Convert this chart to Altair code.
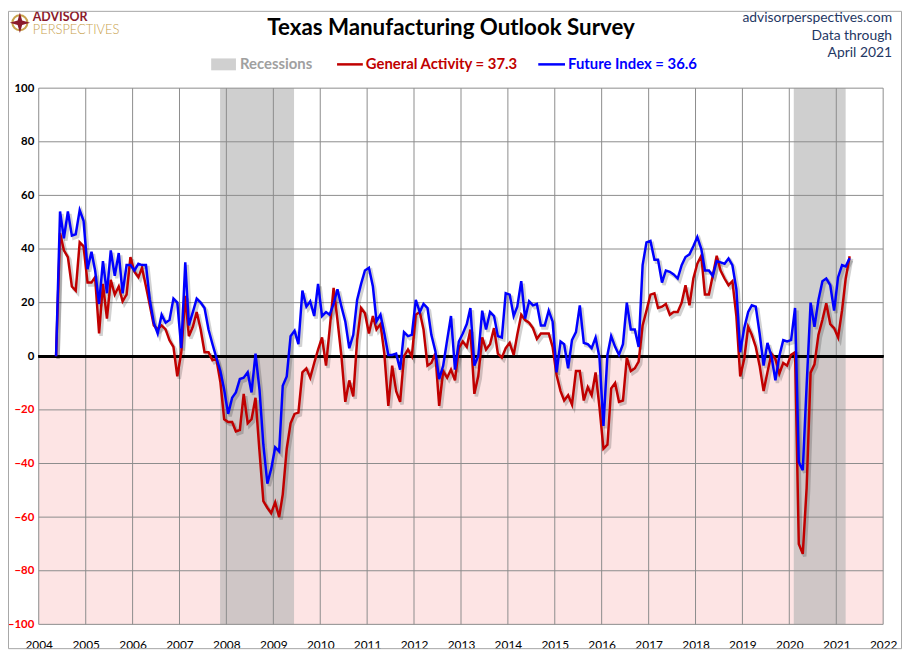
import pandas as pd
import altair as alt

FONT = "Lato"

# monthly readings, May 2004 .. Apr 2021
first_month = "2004-05-01"
general_activity = [
    0, 46, 39.5, 37, 26, 24.5, 42.5, 41,
    27.5, 27.5, 29.5, 8.5, 27, 14, 28.5, 23, 26, 20.5, 23, 37,
    31.5, 29.5, 33, 26, 19, 11.5, 10, 11.5, 10, 6, 3.5, -7.5,
    1.5, 22.5, 7.5, 11, 16.5, 10, 1.5, 1.5, -1.5, -1, -9.5, -23.5,
    -24.5, -24.5, -28, -27.5, -14, -25, -23.5, -15.5, -35.5, -54, -56.5, -58.5,
    -54.5, -60, -51.5, -34.5, -25, -21.5, -21, -6, -4.5, -8, -2.5, 2.5,
    7, -3.5, 10, 25.5, 13.5, 0, -17, -9, -15, 6, 18, 16,
    8.5, 15, 10, 12, 1, -18.5, -3.5, -13, -17, 0, 2.5, 0,
    15.5, 16.5, 10, -3.5, -2.5, 1, -18.5, -5.5, -8, -5, -9, 3,
    5.5, 3.5, 10, -14, -7.5, 7, 2.5, 4.5, 10.5, 1, -0.5, 3,
    5, 0.5, 8, 15.5, 13.5, 12.5, 10.5, 6.5, 8.5, 8.5, 8.5, 3.5,
    -7, -13, -16.5, -14.5, -18, -5.5, -5.5, -16.5, -11.5, -14.5, -6, -19,
    -34.5, -33, -12, -10, -17, -16.5, -0.5, -5.5, -4.5, -2, 11.5, 17,
    23, 23.5, 18, 18.5, 19.5, 15.5, 16.5, 16.5, 20, 26.5, 19, 29,
    34.5, 37.5, 23, 23, 30, 37.5, 32, 29, 26.5, 28, 15, -7.5,
    -1, 11, 8, 3.5, -3.5, -13, -6, 1, -1, -6.5, -2.5, -3.5,
    0.5, 1.5, -70, -73.7, -49.2, -6.1, -3, 8, 13.6, 19.8, 12, 10.5,
    7, 17.2, 28.9, 37.3,
]
future_index = [
    0, 54, 44, 54, 45, 45.5, 54.5, 50.5,
    32.5, 39, 32, 19.5, 35.5, 23.5, 39.5, 30, 38.5, 23.5, 34, 34,
    32, 34.5, 34, 34, 21, 12.5, 8.5, 15.5, 12.5, 13.5, 21.5, 20,
    3, 35, 11.5, 16.5, 21.5, 20, 18, 10, 4.5, -0.5, -5.5, -12.5,
    -21.5, -15.5, -13.5, -8.5, -8, -6, -13.5, 1, -12.5, -33, -47.5, -42,
    -34, -35.5, -11, -7.5, 7.5, 9.5, 4.5, 24.5, 18.5, 20.5, 15, 27,
    15, 16.5, 15.5, 19.5, 25, 18.5, 13, 3, 8, 21, 27, 32,
    33, 26, 13, 15.5, 8.5, 0.5, 0.5, 1, -5, 9, 7.5, 8,
    21, 16.5, 19.5, 18, 8, 2, -8.5, -3.5, 6, 15, -5, 5.5,
    8.5, 12, 18, -3.5, 0, 17, 10, 16.5, 15, 7.5, 7, 23.5,
    23, 15, 18.5, 28, 14, 20.5, 19, 19.5, 11.5, 11.5, 17, 13,
    -6, 5.5, 4.5, -4.5, 6, 9, 19, 5, 4.5, 3, 7, -0.5,
    -26, 0.5, 7.5, 3.5, 0.5, 4.5, 20, 10, 10, 3.5, 34, 42.5,
    43, 36, 36, 27.5, 32, 31.5, 30.5, 29, 34, 37, 38, 41,
    44.5, 40, 32, 32, 30, 35.5, 35, 34.5, 36.5, 34, 25, 1.5,
    10.5, 16.5, 19, 18.5, 8.5, -3.5, 5, 0, -9, 0, 6, 5.5,
    6, 18, -39.5, -42.5, -11, 20, 11, 21, 28, 29, 26.5, 17,
    29.5, 34, 33.5, 36.6,
]

recession_start = ["2007-11-13", "2020-02-05"]
recession_end = ["2009-06-11", "2021-03-15"]

year_ticks = list(range(2004, 2023))
value_ticks = list(range(-100, 101, 20))

W, H = 852, 541
LEFT, TOP = 31, 78

months = pd.date_range(first_month, periods=len(general_activity), freq="MS") + pd.Timedelta(days=14)
df = pd.DataFrame({"date": months, "general": general_activity, "future": future_index})
rec = pd.DataFrame({"start": pd.to_datetime(recession_start), "end": pd.to_datetime(recession_end)})
neg = pd.DataFrame({
    "start": [pd.Timestamp(f"{year_ticks[0]}-01-01")],
    "end": [pd.Timestamp(f"{year_ticks[-1]}-01-01")],
    "top": [0], "bottom": [value_ticks[0]],
})
years = pd.DataFrame({"year": pd.to_datetime([f"{y}-01-01" for y in year_ticks])})
levels = pd.DataFrame({"v": value_ticks})

x_scale = alt.Scale(domain=[alt.DateTime(year=year_ticks[0], month=1, date=1),
                            alt.DateTime(year=year_ticks[-1], month=1, date=1)])
y_scale = alt.Scale(domain=[value_ticks[0], value_ticks[-1]], nice=False)

# same axis object on every layer so the merged axis keeps these settings
x_axis = alt.Axis(
    values=[alt.DateTime(year=y, month=1, date=1) for y in year_ticks],
    format="%Y", title=None, grid=False, domain=False, ticks=False,
    labelFont=FONT, labelFontSize=12, labelColor="black", labelPadding=15,
    labelFlush=False, labelOverlap=False,
)
y_axis = alt.Axis(
    values=value_ticks, title=None, grid=False, domain=False, ticks=False,
    labelFont=FONT, labelFontSize=11.5, labelFontWeight="bold", labelPadding=5,
    labelColor={"condition": {"test": "datum.value < 0", "value": "#FF0000"}, "value": "black"},
)


def X(field):
    return alt.X(field, scale=x_scale, axis=x_axis)


def Y(field):
    return alt.Y(field, scale=y_scale, axis=y_axis)


pink = alt.Chart(neg).mark_rect(color="#FDE4E4").encode(
    x=X("start:T"), x2="end:T", y=Y("top:Q"), y2="bottom:Q",
)
recessions = alt.Chart(rec).mark_rect(color="#B8B8B8", opacity=0.68).encode(
    x=X("start:T"), x2="end:T",
)
vgrid = alt.Chart(years).mark_rule(color="#8C8C8C", strokeWidth=1).encode(x=X("year:T"))
hgrid = alt.Chart(levels).mark_rule(color="#8C8C8C", strokeWidth=1).encode(y=Y("v:Q"))
zero = alt.Chart(levels).mark_rule(color="black", strokeWidth=2.5).encode(y=alt.datum(0))


def series(field, color, shadow=False):
    if shadow:
        style = dict(color="black", opacity=0.18, strokeWidth=3.5, xOffset=2, yOffset=2.5)
    else:
        style = dict(color=color, strokeWidth=2.5)
    return alt.Chart(df).mark_line(**style).encode(x=X("date:T"), y=Y(f"{field}:Q"))


def label(text, x, y, size=13, color="black", weight="normal", align="left"):
    return alt.Chart(alt.Data(values=[{}])).mark_text(
        text=text, font=FONT, fontSize=size, color=color, fontWeight=weight,
        align=align, baseline="middle",
    ).encode(x=alt.value(x - LEFT - 8), y=alt.value(y - TOP - 8))


def pix_rule(x1, x2, y, color, width=2.5):
    return alt.Chart(alt.Data(values=[{}])).mark_rule(color=color, strokeWidth=width).encode(
        x=alt.value(x1 - LEFT - 8), x2=alt.value(x2 - LEFT - 8), y=alt.value(y - TOP - 8)
    )


legend_box = alt.Chart(alt.Data(values=[{}])).mark_rect(color="#D0D0D0").encode(
    x=alt.value(213 - LEFT - 8), x2=alt.value(238 - LEFT - 8),
    y=alt.value(56 - TOP - 8), y2=alt.value(68 - TOP - 8),
)
logo_ring = alt.Chart(alt.Data(values=[{}])).mark_point(
    shape="circle", size=230, filled=False, color="#C9A24D", strokeWidth=2, opacity=1
).encode(x=alt.value(20 - LEFT - 8), y=alt.value(20 - TOP - 8))
logo_star = alt.Chart(alt.Data(values=[{}])).mark_point(
    shape="M0,-1L0.22,-0.22L1,0L0.22,0.22L0,1L-0.22,0.22L-1,0L-0.22,-0.22Z",
    size=420, filled=True, color="#8B1A2B", opacity=1
).encode(x=alt.value(20 - LEFT - 8), y=alt.value(20 - TOP - 8))
frame = alt.Chart(alt.Data(values=[{}])).mark_rect(
    fill=None, stroke="#A6A6A6", strokeWidth=1
).encode(
    x=alt.value(-LEFT + 0.5), x2=alt.value(W + 18.5),
    y=alt.value(-TOP + 0.5), y2=alt.value(H + 24.5),
)

chart = alt.layer(
    pink, recessions, vgrid, hgrid, zero,
    series("general", None, shadow=True), series("future", None, shadow=True),
    series("general", "#C00000"), series("future", "#0000FF"),
    label("Texas Manufacturing Outlook Survey", 455, 25, size=22.5, weight="bold", align="center"),
    label("advisorperspectives.com", 900, 15, size=14, color="#1F3864", align="right"),
    label("Data through", 900, 33, size=14, color="#1F3864", align="right"),
    label("April 2021", 900, 51, size=14, color="#1F3864", align="right"),
    label("ADVISOR", 33, 14, size=12.5, color="#8B1A2B", weight="bold"),
    label("PERSPECTIVES", 33, 27.5, size=13, color="#C9A24D", weight=300),
    logo_ring, logo_star,
    legend_box,
    label("Recessions", 242, 62, size=15, color="#A0A0A0", weight="bold"),
    pix_rule(340, 366, 62, "#C00000"),
    label("General Activity = 37.3", 369, 62, size=15, color="#C00000", weight="bold"),
    pix_rule(543, 570, 62, "#0000FF"),
    label("Future Index = 36.6", 573, 62, size=15, color="#0000FF", weight="bold"),
    frame,
).properties(
    width=W, height=H,
    padding={"left": LEFT, "top": TOP, "right": 19, "bottom": 25},
    autosize=alt.AutoSizeParams(type="none"),
).configure(font=FONT).configure_view(stroke=None)

chart.save("out.html", embed_options={"renderer": "svg", "actions": False})
